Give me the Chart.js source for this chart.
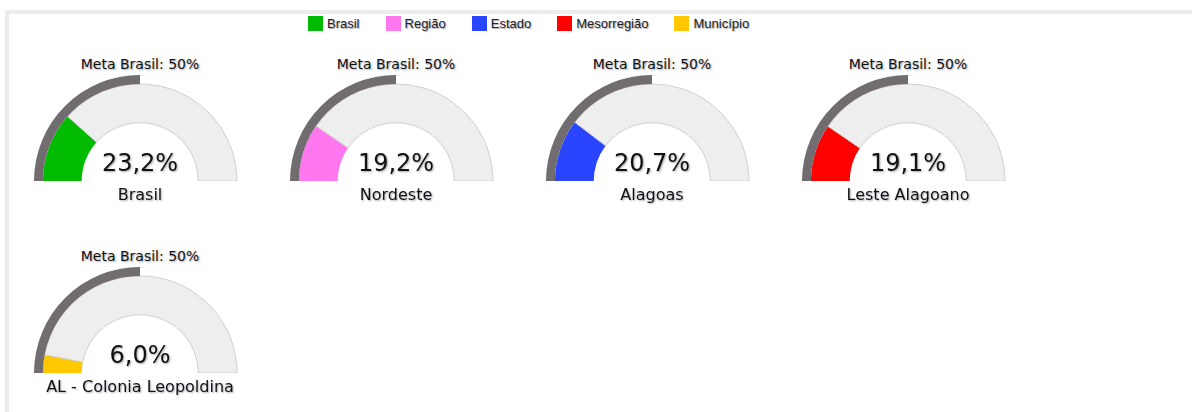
<!DOCTYPE html>
<html lang="pt-BR">
<head>
<meta charset="utf-8">
<script src="https://cdn.jsdelivr.net/npm/chart.js@4/dist/chart.umd.min.js"></script>
<style>
    body { margin: 0; background: #fff; width: 1192px; height: 412px; overflow: hidden; position: relative; font-family: "DejaVu Sans", sans-serif; }
    .moldura { position: absolute; left: 5px; top: 10px; width: 1200px; height: 420px; border-top: 4px solid #ececec; border-left: 4px solid #ececec; }
    .legenda { position: absolute; left: 308px; top: 16px; display: flex; align-items: center; font-family: "Liberation Sans", Arial, sans-serif; font-size: 13px; color: #222; text-shadow: 1px 1px 1px rgba(0,0,40,0.35); }
    .legenda .item { display: flex; align-items: center; margin-right: 26px; }
    .legenda .caixa { width: 15px; height: 15px; margin-right: 4px; }
    .txt { position: absolute; width: 256px; text-align: center; color: #111; text-shadow: 1px 1px 2px rgba(0,0,40,0.35); white-space: nowrap; }
    .meta { font-size: 14px; line-height: 16px; }
    .valor { font-size: 24px; line-height: 28px; }
    .rotulo { font-size: 16px; line-height: 18px; }
    canvas { position: absolute; }
</style>
</head>
<body>
<div class="moldura"></div>
<div class="legenda" id="legenda"></div>
<div id="medidores"></div>
<script>
// dados
const niveis = ['Brasil', 'Região', 'Estado', 'Mesorregião', 'Município'];
const locais = ['Brasil', 'Nordeste', 'Alagoas', 'Leste Alagoano', 'AL - Colonia Leopoldina'];
const valores = [23.2, 19.2, 20.7, 19.1, 6.0];
const metaBrasil = 50;
const cores = ['#00bb00', '#ff77ee', '#2a45ff', '#ff0000', '#ffc800'];

const corMeta = '#716c70';
const corFundo = '#eeeeee';

// legenda
const legenda = document.getElementById('legenda');
niveis.forEach((nivel, i) => {
    const item = document.createElement('div');
    item.className = 'item';
    item.innerHTML = `<div class="caixa" style="background:${cores[i]}"></div><span>${nivel}</span>`;
    legenda.appendChild(item);
});

function formatar(v) {
    return v.toFixed(1).replace('.', ',') + '%';
}

const medidores = document.getElementById('medidores');

locais.forEach((local, i) => {
    const col = i % 4;
    const linha = Math.floor(i / 4);
    const cx = 140 + 256 * col;
    const base = 181 + 192 * linha;   // linha de base do semicirculo

    const meta = document.createElement('div');
    meta.className = 'txt meta';
    meta.style.left = (cx - 128) + 'px';
    meta.style.top = (base - 125) + 'px';
    meta.textContent = 'Meta Brasil: ' + metaBrasil + '%';
    medidores.appendChild(meta);

    const canvas = document.createElement('canvas');
    canvas.width = 212;
    canvas.height = 106;
    canvas.style.width = '212px';
    canvas.style.height = '106px';
    canvas.style.left = (cx - 106) + 'px';
    canvas.style.top = (base - 106) + 'px';
    medidores.appendChild(canvas);

    const valor = document.createElement('div');
    valor.className = 'txt valor';
    valor.style.left = (cx - 128) + 'px';
    valor.style.top = (base - 32) + 'px';
    valor.textContent = formatar(valores[i]);
    medidores.appendChild(valor);

    const rotulo = document.createElement('div');
    rotulo.className = 'txt rotulo';
    rotulo.style.left = (cx - 128) + 'px';
    rotulo.style.top = (base + 5) + 'px';
    rotulo.textContent = local;
    medidores.appendChild(rotulo);

    new Chart(canvas.getContext('2d'), {
        type: 'doughnut',
        data: {
            labels: [niveis[i], ''],
            datasets: [
                {
                    // anel externo: meta
                    data: [metaBrasil, 100 - metaBrasil],
                    backgroundColor: [corMeta, 'rgba(0,0,0,0)'],
                    borderWidth: 0,
                    weight: 9
                },
                {
                    data: [valores[i], 100 - valores[i]],
                    backgroundColor: [cores[i], corFundo],
                    borderColor: ['rgba(0,0,0,0)', '#cfcfcf'],
                    borderWidth: [0, 1],
                    weight: 39
                }
            ]
        },
        options: {
            responsive: false,
            animation: false,
            events: [],
            rotation: -90,
            circumference: 180,
            cutout: '55%',
            plugins: {
                legend: { display: false },
                tooltip: { enabled: false }
            }
        }
    });
});
</script>
</body>
</html>
